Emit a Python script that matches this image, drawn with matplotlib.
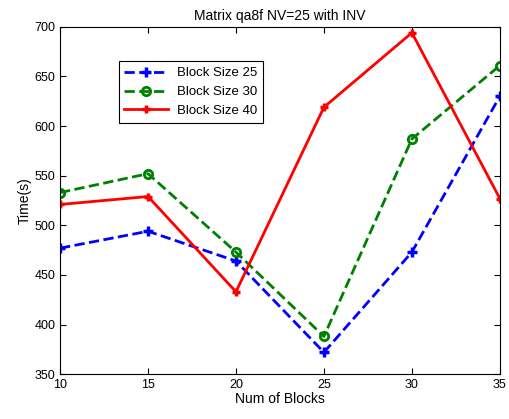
import matplotlib
matplotlib.use('Agg')
import matplotlib.pyplot as plt

plt.rcParams['font.family'] = ['Liberation Sans', 'DejaVu Sans']

blocks = [10, 15, 20, 25, 30, 35]
size25 = [477, 494, 464, 372, 473, 630]
size30 = [533, 552, 473, 388, 587, 661]
size40 = [521, 529, 433, 619, 694, 527]

fig = plt.figure(figsize=(5.09, 4.19), dpi=100)
ax = fig.add_axes([0.118, 0.107, 0.864, 0.829])

ax.plot(blocks, size25, 'b--', marker='+', markersize=7, mew=2.5, lw=2, label='Block Size 25')
ax.plot(blocks, size30, '--', color='green', marker='o', markersize=6, mfc='none', mew=2, lw=2, label='Block Size 30')
ax.plot(blocks, size40, 'r-', marker='+', markersize=6, mew=2.5, lw=2, label='Block Size 40')

ax.set_xlim(10, 35)
ax.set_ylim(350, 700)
ax.set_xticks(blocks)
ax.set_yticks(range(350, 701, 50))
ax.tick_params(direction='in', top=True, right=True, labelsize=9, length=4)
ax.set_xlabel('Num of Blocks', fontsize=10, labelpad=1)
ax.set_ylabel('Time(s)', fontsize=10, labelpad=2)
ax.set_title('Matrix qa8f NV=25 with INV', fontsize=10, pad=5)

leg = ax.legend(loc='upper left', bbox_to_anchor=(0.118, 0.92), fontsize=9.5,
                fancybox=False, edgecolor='black', framealpha=1, handlelength=3.3,
                borderpad=0.45, labelspacing=0.5, handletextpad=0.7)
leg.get_frame().set_linewidth(0.8)

fig.savefig('out.png', dpi=100)
